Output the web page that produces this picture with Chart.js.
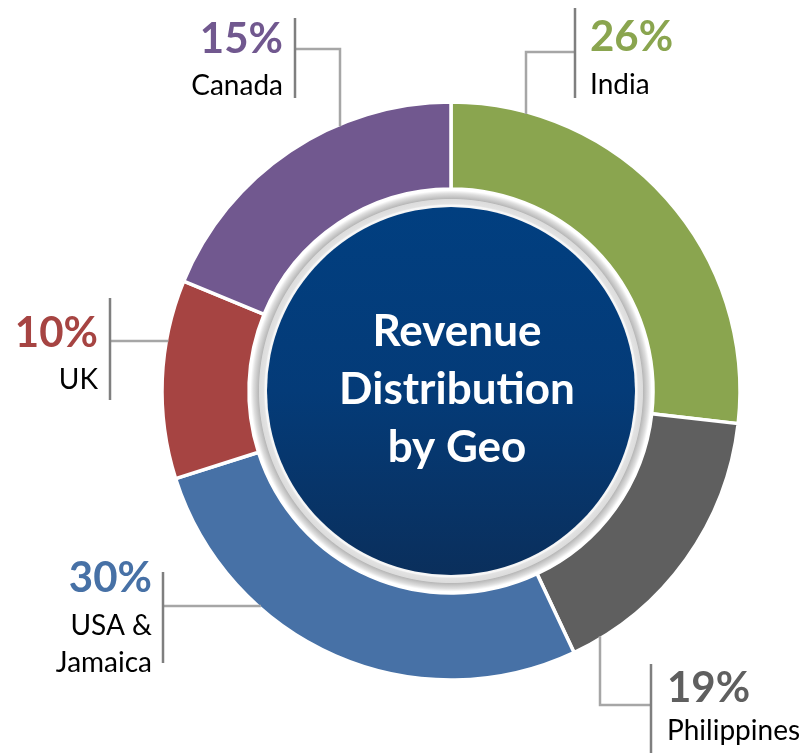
<!DOCTYPE html>
<html>
<head>
<meta charset="utf-8">
<script src="https://cdn.jsdelivr.net/npm/chart.js@4.4.0/dist/chart.umd.min.js"></script>
<style>
html,body{margin:0;padding:0;background:#fff;}
#wrap{width:809px;height:753px;position:relative;}
</style>
</head>
<body>
<div id="wrap"><canvas id="c" width="809" height="753"></canvas></div>
<script>
// ---- data ----
const categories = ["India", "Philippines", "USA & Jamaica", "UK", "Canada"];
const arcValues = [26.8, 16.2, 27.1, 11.1, 18.8];      // arc sizes as drawn in the picture
const percentLabels = ["26%", "19%", "30%", "10%", "15%"];
const nameLines = [["India"], ["Philippines"], ["USA &", "Jamaica"], ["UK"], ["Canada"]];
const sliceColors = ["#8aa54f", "#5f5f5f", "#4771a6", "#a64442", "#71588f"];
const centerTitle = ["Revenue", "Distribution", "by Geo"];

// ---- label layout (annotation placement) ----
const labelLayout = [
  {side:'L', barX:575, barY0:8,   barY1:98,  textX:590, base:[51,94],      path:[[575,52],[526,52]], toCircle:'down'},
  {side:'L', barX:651, barY0:664, barY1:753, textX:667, base:[702,740],    path:[[651,705],[600,705]], toCircle:'up'},
  {side:'R', barX:163, barY0:572, barY1:663, textX:152, base:[592,635,672], path:[[163,606]], toCircle:'right'},
  {side:'R', barX:110, barY0:298, barY1:400, textX:98,  base:[347,389],    path:[[110,341]], toCircle:'right'},
  {side:'R', barX:295, barY0:18,  barY1:98,  textX:283, base:[53,95],      path:[[295,49],[340,49]], toCircle:'down'}
];

const FONT = "Lato, 'Open Sans', 'DejaVu Sans', sans-serif";

const centerPlugin = {
  id: 'centerDeco',
  afterDatasetsDraw(chart) {
    const arc = chart.getDatasetMeta(0).data[0];
    if (!arc) return;
    const ctx = chart.ctx;
    const cx = arc.x, cy = arc.y;
    const rIn = arc.innerRadius;
    const rBlue = rIn - 18;
    ctx.save();
    const g = ctx.createRadialGradient(cx, cy, rBlue, cx, cy, rIn);
    g.addColorStop(0.00, '#f4f4f4');
    g.addColorStop(0.10, '#f8f8f8');
    g.addColorStop(0.18, '#e2e2e2');
    g.addColorStop(0.42, '#dcdcdc');
    g.addColorStop(0.47, '#b9b9b9');
    g.addColorStop(0.75, '#dedede');
    g.addColorStop(0.92, '#ffffff');
    g.addColorStop(1.00, '#ffffff');
    ctx.beginPath();
    ctx.arc(cx, cy, rIn, 0, Math.PI * 2);
    ctx.fillStyle = g;
    ctx.fill();
    const lg = ctx.createLinearGradient(0, cy - rBlue, 0, cy + rBlue);
    lg.addColorStop(0, '#013f80');
    lg.addColorStop(0.5, '#043b78');
    lg.addColorStop(1, '#0a2f5c');
    ctx.beginPath();
    ctx.arc(cx, cy, rBlue, 0, Math.PI * 2);
    ctx.fillStyle = lg;
    ctx.fill();
    ctx.fillStyle = '#ffffff';
    ctx.font = "bold 44px " + FONT;
    ctx.textAlign = 'center';
    ctx.textBaseline = 'alphabetic';
    const tx = cx + 6;
    centerTitle.forEach((t, i) => ctx.fillText(t, tx, cy - 45 + i * 58));
    ctx.restore();
  }
};

const labelPlugin = {
  id: 'leaderLabels',
  afterDraw(chart) {
    const meta = chart.getDatasetMeta(0);
    const ctx = chart.ctx;
    ctx.save();
    meta.data.forEach((arc, i) => {
      const L = labelLayout[i];
      const cx = arc.x, cy = arc.y, R = arc.outerRadius - 2;
      const pts = L.path.slice();
      const last = pts[pts.length - 1];
      let end;
      if (L.toCircle === 'down') end = [last[0], cy - Math.sqrt(R*R - (last[0]-cx)*(last[0]-cx))];
      else if (L.toCircle === 'up') end = [last[0], cy + Math.sqrt(R*R - (last[0]-cx)*(last[0]-cx))];
      else end = [cx - Math.sqrt(R*R - (last[1]-cy)*(last[1]-cy)), last[1]];
      pts.push(end);
      ctx.beginPath();
      ctx.moveTo(pts[0][0], pts[0][1]);
      for (let k = 1; k < pts.length; k++) ctx.lineTo(pts[k][0], pts[k][1]);
      ctx.strokeStyle = '#a6a6a6';
      ctx.lineWidth = 2.5;
      ctx.lineCap = 'butt';
      ctx.lineJoin = 'miter';
      ctx.stroke();
      ctx.beginPath();
      ctx.moveTo(L.barX, L.barY0);
      ctx.lineTo(L.barX, L.barY1);
      ctx.strokeStyle = '#7f7f7f';
      ctx.lineWidth = 2.5;
      ctx.stroke();
      ctx.textAlign = L.side === 'L' ? 'left' : 'right';
      ctx.textBaseline = 'alphabetic';
      ctx.font = "bold 42px " + FONT;
      ctx.fillStyle = sliceColors[i];
      ctx.fillText(percentLabels[i], L.textX, L.base[0]);
      ctx.font = "28px " + FONT;
      ctx.fillStyle = '#000000';
      nameLines[i].forEach((t, k) => ctx.fillText(t, L.textX, L.base[k + 1]));
    });
    ctx.restore();
  }
};

new Chart(document.getElementById('c'), {
  type: 'doughnut',
  data: {
    labels: categories,
    datasets: [{
      data: arcValues,
      backgroundColor: sliceColors,
      borderColor: '#ffffff',
      borderWidth: 3.5,
      hoverOffset: 0
    }]
  },
  options: {
    responsive: false,
    animation: false,
    radius: 289,
    cutout: '69.9%',
    rotation: 0,
    layout: { padding: { left: 93, right: 0, top: 29, bottom: 0 } },
    plugins: { legend: { display: false }, tooltip: { enabled: false }, title: { display: false } }
  },
  plugins: [centerPlugin, labelPlugin]
});
</script>
</body>
</html>
